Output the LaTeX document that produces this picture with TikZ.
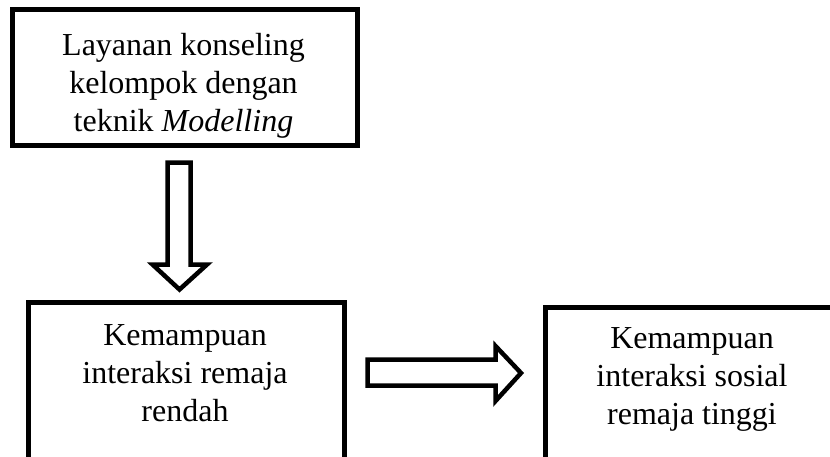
\documentclass[tikz,border=0pt]{standalone}
\usepackage{fontspec}
\setmainfont{Liberation Serif}
\begin{document}
\begin{tikzpicture}[x=1pt,y=-1pt,
  box/.style={draw=black, line width=5pt, rectangle, inner sep=0pt, fill=white},
  label/.style={inner sep=0pt, anchor=base, font=\fontsize{32}{38}\selectfont},
  blockarrow/.style={draw=black, line width=4.5pt, line join=miter, fill=white}]
\useasboundingbox (0,0) rectangle (830,456);
\clip (0,0) rectangle (830,456);
% boxes
\node[box, minimum width=345pt, minimum height=135.5pt] (top) at (184.5,77.25) {};
\node[box, minimum width=316pt, minimum height=168pt] (low) at (186,386) {};
\node[box, minimum width=315pt, minimum height=163pt] (high) at (702.5,388.5) {};
% texts
\node[label] (toptext) at (183.5,55) {\begin{tabular}[t]{@{}c@{}}Layanan konseling\\ kelompok dengan\\ teknik \textit{Modelling}\end{tabular}};
\node[label] (lowtext) at (185,345) {\begin{tabular}[t]{@{}c@{}}Kemampuan\\ interaksi remaja\\ rendah\end{tabular}};
\node[label] (hightext) at (692,348) {\begin{tabular}[t]{@{}c@{}}Kemampuan\\ interaksi sosial\\ remaja tinggi\end{tabular}};
% block arrows
\draw[blockarrow] (167.5,162.5) -- (190.5,162.5) -- (190.5,264.5) -- (207,264.5) -- (179.5,289.5) -- (152.5,264.5) -- (167.5,264.5) -- cycle;
\draw[blockarrow] (367.5,359.5) -- (495.5,359.5) -- (495.5,346) -- (521,373) -- (495.5,401) -- (495.5,385.5) -- (367.5,385.5) -- cycle;
\end{tikzpicture}
\end{document}
